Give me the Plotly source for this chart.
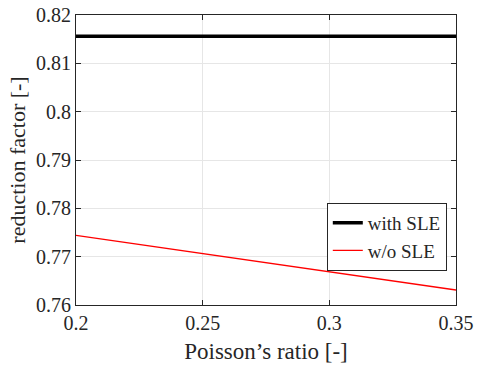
import plotly.graph_objects as go

poisson = [0.2, 0.25, 0.3, 0.35]
with_sle = [0.8156, 0.8156, 0.8156, 0.8156]
wo_sle = [0.7744, 0.7706, 0.7669, 0.7631]

x_ticks = [0.2, 0.25, 0.3, 0.35]
x_ticktext = ["0.2", "0.25", "0.3", "0.35"]
y_ticks = [0.76, 0.77, 0.78, 0.79, 0.8, 0.81, 0.82]
y_ticktext = ["0.76", "0.77", "0.78", "0.79", "0.8", "0.81", "0.82"]

FF = "Liberation Serif"
TXT = "#262626"

fig = go.Figure()
fig.add_trace(go.Scatter(x=poisson, y=with_sle, mode="lines", name="with SLE",
                         line=dict(color="black", width=3.5)))
fig.add_trace(go.Scatter(x=poisson, y=wo_sle, mode="lines", name="w/o SLE",
                         line=dict(color="#ff0000", width=1.3)))

fig.update_layout(
    width=479, height=370,
    margin=dict(l=76, r=23, t=15, b=65, autoexpand=False),
    paper_bgcolor="white", plot_bgcolor="white",
    font=dict(family=FF, color=TXT, size=20),
    legend=dict(x=0.66, y=0.352, xanchor="left", yanchor="top",
                bgcolor="white", bordercolor=TXT, borderwidth=1,
                font=dict(family=FF, size=19, color=TXT),
                tracegroupgap=0, itemwidth=30),
    showlegend=True,
)

common = dict(showline=True, linecolor=TXT, linewidth=1.2, mirror="ticks",
              ticks="inside", ticklen=5, tickcolor=TXT, showgrid=True,
              gridcolor="#e6e6e6", gridwidth=1, zeroline=False, automargin=False,
              tickfont_family=FF, tickfont_size=20, tickfont_color=TXT)

fig.update_xaxes(range=[0.2, 0.35], tickmode="array", tickvals=x_ticks, ticktext=x_ticktext,
                 title_text="Poisson’s ratio [-]", title_font=dict(size=23, family=FF, color=TXT),
                 title_standoff=9, **common)
fig.update_yaxes(range=[0.76, 0.82], tickmode="array", tickvals=y_ticks, ticktext=y_ticktext,
                 title_text="reduction factor [-]", title_font=dict(size=22, family=FF, color=TXT),
                 title_standoff=4, **common)

fig.write_html("out.html")
